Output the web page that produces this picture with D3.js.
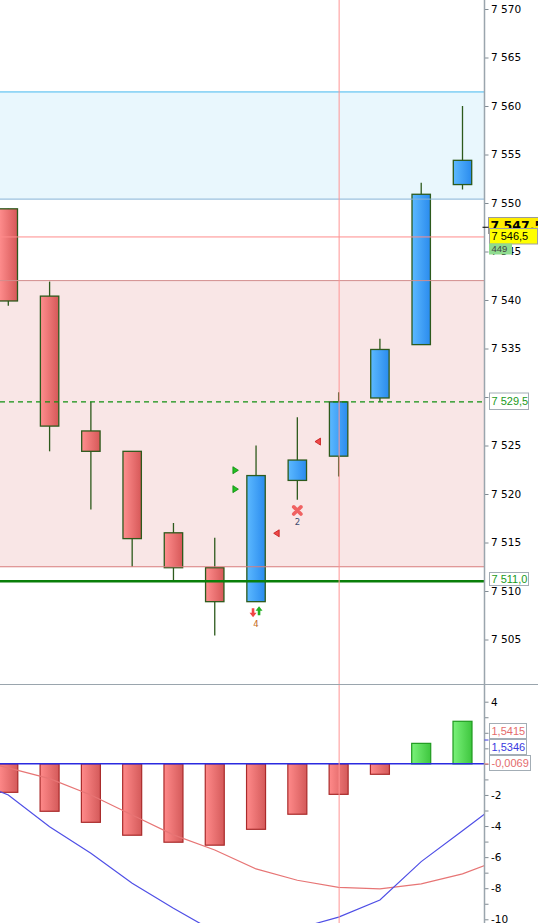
<!DOCTYPE html>
<html><head><meta charset="utf-8">
<script src="https://cdn.jsdelivr.net/npm/d3@7"></script>
<style>html,body{margin:0;padding:0;background:#fff}svg{display:block}</style>
</head><body>
<svg id="c" width="538" height="923"></svg>
<script>
// ---------- DATA ----------
const candleOpen  = [7549.4, 7540.4, 7526.5, 7524.4, 7516.0, 7512.4, 7508.9, 7521.4, 7523.9, 7529.9, 7535.4, 7551.9];
const candleHigh  = [7549.4, 7541.9, 7529.5, 7524.4, 7517.0, 7515.5, 7525.0, 7527.9, 7530.5, 7536.0, 7552.1, 7560.0];
const candleLow   = [7539.4, 7524.4, 7518.4, 7512.5, 7511.1, 7505.4, 7508.9, 7519.4, 7521.8, 7529.5, 7535.4, 7551.4];
const candleClose = [7539.9, 7527.0, 7524.4, 7515.4, 7512.4, 7508.9, 7521.9, 7523.5, 7529.5, 7534.9, 7550.9, 7554.4];

const priceTicks = [7505, 7510, 7515, 7520, 7525, 7530, 7535, 7540, 7545, 7550, 7555, 7560, 7565, 7570];
const blueZone = [7561.45, 7550.4];
const pinkZone = [7542.0, 7512.5];
const levelRed = 7546.5, levelDashed = 7529.5, levelGreen = 7511.0;

const histValues = [-1.83, -3.05, -3.76, -4.59, -5.04, -5.23, -4.21, -3.24, -1.96, -0.67, 1.32, 2.74];
const lineIndex  = [-1, 0, 1, 2, 3, 4, 5, 6, 7, 8, 9, 10, 11, 12];
const blueLine   = [-0.95, -2.0, -4.04, -5.75, -7.68, -9.29, -10.8, -10.9, -10.6, -9.86, -8.76, -6.29, -4.30, -2.3];
const redLine    = [0.36, -0.26, -0.95, -2.0, -3.29, -4.57, -5.54, -6.76, -7.49, -7.94, -8.04, -7.72, -7.08, -6.06];
const lowTicks   = [-10, -9, -8, -7, -6, -5, -4, -3, -2, -1, 0, 1, 2, 3, 4];

// markers: [index offset, price]
const greenTriangles = [[5.5, 7522.45], [5.5, 7520.5]];
const redTriangles   = [[6.5, 7515.95], [7.5, 7525.4]];
const crossMark = {i: 7, p: 7518.3, label: "2"};
const arrowMark = {i: 6, p: 7507.8, label: "4"};
const crosshairIndex = 8;

// ---------- SETUP ----------
const loc = d3.formatLocale({decimal: ",", thousands: " ", grouping: [3], currency: ["", ""], minus: "-"});
const f0 = loc.format(",.0f"), f1 = loc.format(",.1f"), f4 = loc.format(",.4f");

const svg = d3.select("#c");
const W = 538, H = 923, axisX = 484.5, sepY = 684.5;

const x = d3.scaleLinear().domain([0, 11]).range([8.3, 462.5]);
const yM = d3.scaleLinear().domain([7570, 7505]).range([9, 639.5]);
const yL = d3.scaleLinear().domain([4, -10]).range([701.7, 919.3]);
const bodyW = 18.4, histW = 19;

const defs = svg.append("defs");
function grad(id, c1, c2) {
  const g = defs.append("linearGradient").attr("id", id).attr("x1", "0%").attr("x2", "100%").attr("y1", "0%").attr("y2", "0%");
  g.append("stop").attr("offset", "0%").attr("stop-color", c1);
  g.append("stop").attr("offset", "100%").attr("stop-color", c2);
}
grad("gRed", "#ff8e8e", "#d65858");
grad("gBlue", "#5cb9ff", "#2a8bee");
grad("gHRed", "#ff8a8a", "#d45a5a");
grad("gHGreen", "#7af27a", "#3ec63e");
defs.append("clipPath").attr("id", "clipM").append("rect").attr("x", 0).attr("y", 0).attr("width", axisX).attr("height", sepY);
defs.append("clipPath").attr("id", "clipL").append("rect").attr("x", 0).attr("y", sepY).attr("width", axisX).attr("height", H - sepY);

// ---------- MAIN PANEL ----------
const gM = svg.append("g").attr("clip-path", "url(#clipM)");
gM.append("rect").attr("x", 0).attr("width", axisX).attr("y", yM(blueZone[0])).attr("height", yM(blueZone[1]) - yM(blueZone[0])).attr("fill", "#e9f7fd");
gM.append("rect").attr("x", 0).attr("width", axisX).attr("y", yM(pinkZone[0])).attr("height", yM(pinkZone[1]) - yM(pinkZone[0])).attr("fill", "#f9e6e6");

const idx = d3.range(candleOpen.length);
const cg = gM.append("g");
cg.selectAll("line.wick").data(idx).join("line")
  .attr("x1", i => x(i)).attr("x2", i => x(i))
  .attr("y1", i => yM(candleHigh[i])).attr("y2", i => yM(candleLow[i]))
  .attr("stroke", "#2d5a1c").attr("stroke-width", 1.3);
cg.selectAll("rect.body").data(idx).join("rect")
  .attr("x", i => x(i) - bodyW / 2).attr("width", bodyW)
  .attr("y", i => yM(Math.max(candleOpen[i], candleClose[i])))
  .attr("height", i => Math.abs(yM(candleOpen[i]) - yM(candleClose[i])))
  .attr("fill", i => candleClose[i] >= candleOpen[i] ? "url(#gBlue)" : "url(#gRed)")
  .attr("stroke", "#2d5a1c").attr("stroke-width", 1.3);

// zone borders and levels
function hline(g, y, color, w, dash) {
  const l = g.append("line").attr("x1", 0).attr("x2", axisX).attr("y1", y).attr("y2", y).attr("stroke", color).attr("stroke-width", w);
  if (dash) l.attr("stroke-dasharray", dash);
  return l;
}
hline(gM, yM(blueZone[0]), "#45b8ee", 1);
hline(gM, yM(blueZone[1]), "#86b2d6", 1);
hline(gM, yM(pinkZone[0]), "#d28e8e", 1);
hline(gM, yM(pinkZone[1]), "#d87c7c", 1);
hline(gM, yM(levelRed), "#ff8c8c", 1);
hline(gM, yM(levelDashed), "#109010", 1.4, "5,4");
hline(gM, yM(levelGreen), "#0a7f0a", 2.4);

// markers
gM.selectAll("path.gt").data(greenTriangles).join("path")
  .attr("d", d => { const cx = x(d[0]), cy = yM(d[1]); return `M${cx-2.5},${cy-3.5}L${cx+3},${cy}L${cx-2.5},${cy+3.5}Z`; })
  .attr("fill", "#22c022").attr("stroke", "#0d8a0d").attr("stroke-width", 0.8);
gM.selectAll("path.rt").data(redTriangles).join("path")
  .attr("d", d => { const cx = x(d[0]), cy = yM(d[1]); return `M${cx+2.5},${cy-3.5}L${cx-3},${cy}L${cx+2.5},${cy+3.5}Z`; })
  .attr("fill", "#f04848").attr("stroke", "#c01818").attr("stroke-width", 0.8);
{
  const cx = x(crossMark.i), cy = yM(crossMark.p), s = 3.6;
  gM.append("path").attr("d", `M${cx-s},${cy-s}L${cx+s},${cy+s}M${cx+s},${cy-s}L${cx-s},${cy+s}`)
    .attr("stroke", "#f06262").attr("stroke-width", 3.6).attr("stroke-linecap", "round");
  gM.append("text").attr("x", cx).attr("y", cy + 14.5).attr("text-anchor", "middle")
    .attr("font-family", "DejaVu Sans").attr("font-size", 8.5).attr("fill", "#3d4a6e").text(crossMark.label);
}
{
  const cx = x(arrowMark.i), cy = yM(arrowMark.p);
  const rx = cx - 3, gx = cx + 3;
  gM.append("path").attr("d", `M${rx-1.3},${cy-4}L${rx+1.3},${cy-4}L${rx+1.3},${cy+0.5}L${rx+3.5},${cy+0.5}L${rx},${cy+5}L${rx-3.5},${cy+0.5}L${rx-1.3},${cy+0.5}Z`)
    .attr("fill", "#f04444");
  gM.append("path").attr("d", `M${gx-1.3},${cy+3}L${gx+1.3},${cy+3}L${gx+1.3},${cy-1.5}L${gx+3.5},${cy-1.5}L${gx},${cy-6}L${gx-3.5},${cy-1.5}L${gx-1.3},${cy-1.5}Z`)
    .attr("fill", "#22b022");
  gM.append("text").attr("x", cx).attr("y", cy + 15).attr("text-anchor", "middle")
    .attr("font-family", "DejaVu Sans").attr("font-size", 8.5).attr("fill", "#c46a1a").text(arrowMark.label);
}

// ---------- LOWER PANEL ----------
const gL = svg.append("g").attr("clip-path", "url(#clipL)");
gL.selectAll("rect.h").data(idx).join("rect")
  .attr("x", i => x(i) - histW / 2).attr("width", histW)
  .attr("y", i => yL(Math.max(0, histValues[i])))
  .attr("height", i => Math.abs(yL(histValues[i]) - yL(0)))
  .attr("fill", i => histValues[i] >= 0 ? "url(#gHGreen)" : "url(#gHRed)")
  .attr("stroke", i => histValues[i] >= 0 ? "#1f9a1f" : "#a92a2a").attr("stroke-width", 1.2);
hline(gL, yL(0), "#2b2be0", 1.5);
const ln = d3.line().x(d => x(d[0])).y(d => yL(d[1]));
gL.append("path").attr("d", ln(lineIndex.map((v, k) => [v, redLine[k]]))).attr("fill", "none").attr("stroke", "#e77575").attr("stroke-width", 1.2);
gL.append("path").attr("d", ln(lineIndex.map((v, k) => [v, blueLine[k]]))).attr("fill", "none").attr("stroke", "#4f4fe6").attr("stroke-width", 1.2);

// crosshair
svg.append("line").attr("x1", x(crosshairIndex) + 0.5).attr("x2", x(crosshairIndex) + 0.5).attr("y1", 0).attr("y2", H)
  .attr("stroke", "#ff9494").attr("stroke-width", 1);

// separator
svg.append("line").attr("x1", 0).attr("x2", W).attr("y1", sepY).attr("y2", sepY).attr("stroke", "#9aa5ad").attr("stroke-width", 1.2);

// ---------- AXES ----------
const axM = d3.axisRight(yM).tickValues(priceTicks).tickFormat(f0).tickSize(4).tickPadding(2.5);
const gAxM = svg.append("g").attr("transform", `translate(${axisX},0)`).call(axM);
const axL = d3.axisRight(yL).tickValues(lowTicks).tickFormat(d => d % 2 === 0 ? f0(d) : "").tickSize(4).tickPadding(2.5);
const gAxL = svg.append("g").attr("transform", `translate(${axisX},0)`).call(axL);
[gAxM, gAxL].forEach(g => {
  g.select(".domain").remove();
  g.selectAll(".tick line").attr("stroke", "#808a92");
  g.selectAll(".tick text").attr("font-family", "DejaVu Sans").attr("font-size", 10.5).attr("fill", "#000");
});
gAxL.selectAll(".tick").filter(d => yL(d) < sepY + 3).remove();
svg.append("line").attr("x1", axisX).attr("x2", axisX).attr("y1", 0).attr("y2", H).attr("stroke", "#9aa5ad").attr("stroke-width", 1.5);

// ---------- VALUE LABELS ----------
function box(xp, yp, w, h, fill, stroke, txt, color, size, weight, family) {
  svg.append("rect").attr("x", xp + 0.5).attr("y", yp + 0.5).attr("width", w).attr("height", h)
    .attr("fill", fill).attr("stroke", stroke).attr("stroke-width", 1);
  svg.append("text").attr("x", xp + 2.5).attr("y", yp + h / 2 + 0.5).attr("dy", "0.36em")
    .attr("font-family", family || "Liberation Sans").attr("font-size", size).attr("font-weight", weight || "normal")
    .attr("fill", color).text(txt);
}
box(488, 217, 55, 16, "#ffee00", "#9a9a9a", f1(7547.5), "#000", 12.5, "bold", "DejaVu Sans");
svg.append("line").attr("x1", axisX - 2).attr("x2", axisX + 4).attr("y1", yM(7547.5)).attr("y2", yM(7547.5)).attr("stroke", "#000");
box(489, 228, 48, 15.5, "#ffff00", "#a0a0a0", f1(levelRed), "#000", 11);
box(489, 243.5, 22, 10, "#8fdc8f", "#8fdc8f", "449", "#444", 9.5);
box(489, 392.5, 39, 16.5, "#fff", "#a3adb5", f1(levelDashed), "#1a9a1a", 11);
box(489, 572, 39, 13, "#fff", "#a3adb5", f1(levelGreen), "#1a9a1a", 11);
box(489, 723, 37, 15, "#fff", "#a3adb5", f4(1.5415), "#e46c6c", 11);
box(489, 739, 37, 15, "#fff", "#a3adb5", f4(1.5346), "#3a3ae0", 11);
box(489, 755, 41, 15, "#fff", "#a3adb5", f4(-0.0069), "#e46c6c", 11);
svg.append("line").attr("x1", axisX).attr("x2", axisX + 4).attr("y1", yL(1.5346)).attr("y2", yL(1.5346)).attr("stroke", "#3a3ae0");
svg.append("line").attr("x1", axisX).attr("x2", axisX + 4).attr("y1", yL(-0.0069)).attr("y2", yL(-0.0069)).attr("stroke", "#e46c6c");
</script>
</body></html>
